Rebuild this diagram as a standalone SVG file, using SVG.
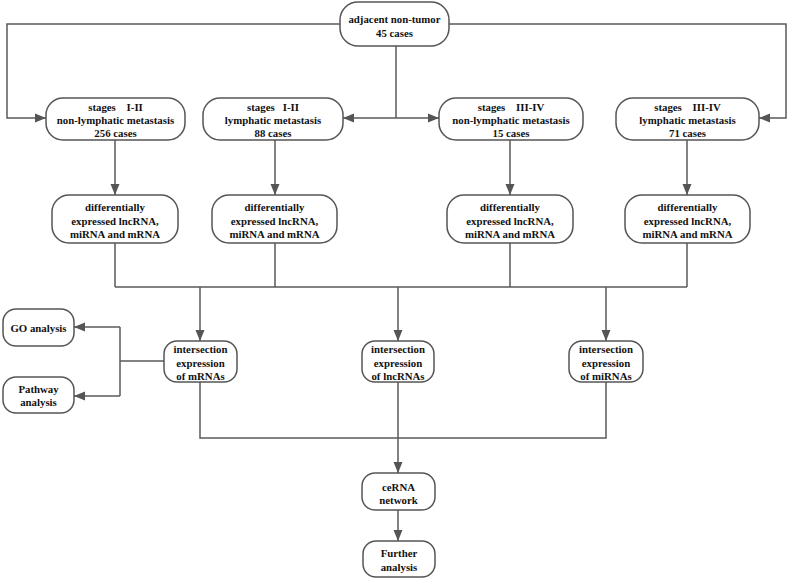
<svg xmlns="http://www.w3.org/2000/svg" width="796" height="580" viewBox="0 0 796 580">
<defs>
<marker id="ah" markerUnits="userSpaceOnUse" markerWidth="12" markerHeight="10" refX="11" refY="5" orient="auto">
<path d="M0,0.5 L11,5 L0,9.5 Z" fill="#555"/>
</marker>
<style>
.n rect{fill:#fff;stroke:#555;stroke-width:1.5}
.n text{font-family:"Liberation Serif","Times New Roman",serif;font-weight:bold;font-size:10.8px;fill:#111;text-anchor:middle;white-space:pre}
.c path{fill:none;stroke:#5a5a5a;stroke-width:1.5}
.c path.a{marker-end:url(#ah)}
</style>
</defs>
<rect width="796" height="580" fill="#fff"/>
<g class="c" id="connectors">
<path class="a" d="M340,24 H7 V118 H46"/>
<path class="a" d="M449,24 H786 V118 H759"/>
<path d="M396,46 V118"/>
<path class="a" d="M396,118 H343"/>
<path class="a" d="M396,118 H439"/>
<path class="a" d="M115,140 V195"/>
<path class="a" d="M275,140 V195"/>
<path class="a" d="M510,140 V195"/>
<path class="a" d="M687,140 V195"/>
<path d="M115,243 V287 M275,243 V287 M510,243 V287 M687,243 V287 M115,287 H687"/>
<path class="a" d="M200,287 V341"/>
<path class="a" d="M398,287 V341"/>
<path class="a" d="M606,287 V341"/>
<path d="M164,361 H120 M120,327 V396"/>
<path class="a" d="M120,327 H74"/>
<path class="a" d="M120,396 H74"/>
<path d="M200,382 V438 H606 V382"/>
<path class="a" d="M398,382 V473"/>
<path class="a" d="M398,510 V541"/>
</g>
<g class="n" id="adjacent">
<rect x="340" y="2" width="109" height="44" rx="18"/>
<text x="394.5" y="23">adjacent non-tumor</text>
<text x="394.5" y="37">45 cases</text>
</g>
<g class="n" id="stage1">
<rect x="46" y="98" width="139" height="42" rx="17"/>
<text x="115.5" y="111">stages    I-II</text>
<text x="115.5" y="124">non-lymphatic metastasis</text>
<text x="115.5" y="137">256 cases</text>
</g>
<g class="n" id="stage2">
<rect x="203" y="98" width="140" height="42" rx="17"/>
<text x="273" y="111">stages   I-II</text>
<text x="273" y="124">lymphatic metastasis</text>
<text x="273" y="137">88 cases</text>
</g>
<g class="n" id="stage3">
<rect x="439" y="98" width="144" height="42" rx="17"/>
<text x="511" y="111">stages    III-IV</text>
<text x="511" y="124">non-lymphatic metastasis</text>
<text x="511" y="137">15 cases</text>
</g>
<g class="n" id="stage4">
<rect x="616" y="98" width="143" height="42" rx="17"/>
<text x="687.5" y="111">stages    III-IV</text>
<text x="687.5" y="124">lymphatic metastasis</text>
<text x="687.5" y="137">71 cases</text>
</g>
<g class="n" id="diff1">
<rect x="52" y="195" width="126" height="48" rx="17"/>
<text x="115" y="211">differentially</text>
<text x="115" y="225">expressed lncRNA,</text>
<text x="115" y="238">miRNA and mRNA</text>
</g>
<g class="n" id="diff2">
<rect x="212" y="195" width="125" height="48" rx="17"/>
<text x="274.5" y="211">differentially</text>
<text x="274.5" y="225">expressed lncRNA,</text>
<text x="274.5" y="238">miRNA and mRNA</text>
</g>
<g class="n" id="diff3">
<rect x="447" y="195" width="126" height="48" rx="17"/>
<text x="510" y="211">differentially</text>
<text x="510" y="225">expressed lncRNA,</text>
<text x="510" y="238">miRNA and mRNA</text>
</g>
<g class="n" id="diff4">
<rect x="625" y="195" width="125" height="48" rx="17"/>
<text x="687.5" y="211">differentially</text>
<text x="687.5" y="225">expressed lncRNA,</text>
<text x="687.5" y="238">miRNA and mRNA</text>
</g>
<g class="n" id="int-mrna">
<rect x="164" y="341" width="73" height="41" rx="13"/>
<text x="200.5" y="353">intersection</text>
<text x="200.5" y="367">expression</text>
<text x="200.5" y="380">of mRNAs</text>
</g>
<g class="n" id="int-lncrna">
<rect x="362" y="341" width="72" height="41" rx="13"/>
<text x="398" y="353">intersection</text>
<text x="398" y="367">expression</text>
<text x="398" y="380">of lncRNAs</text>
</g>
<g class="n" id="int-mirna">
<rect x="569" y="341" width="74" height="41" rx="13"/>
<text x="606" y="353">intersection</text>
<text x="606" y="367">expression</text>
<text x="606" y="380">of miRNAs</text>
</g>
<g class="n" id="go">
<rect x="3" y="309" width="71" height="37" rx="13"/>
<text x="38.5" y="332">GO analysis</text>
</g>
<g class="n" id="pathway">
<rect x="3" y="377" width="71" height="36" rx="13"/>
<text x="38.5" y="393">Pathway</text>
<text x="38.5" y="406">analysis</text>
</g>
<g class="n" id="cerna">
<rect x="362" y="473" width="73" height="37" rx="13"/>
<text x="398.5" y="491">ceRNA</text>
<text x="398.5" y="504">network</text>
</g>
<g class="n" id="further">
<rect x="363" y="541" width="72" height="36" rx="13"/>
<text x="399" y="557">Further</text>
<text x="399" y="571">analysis</text>
</g>
</svg>
